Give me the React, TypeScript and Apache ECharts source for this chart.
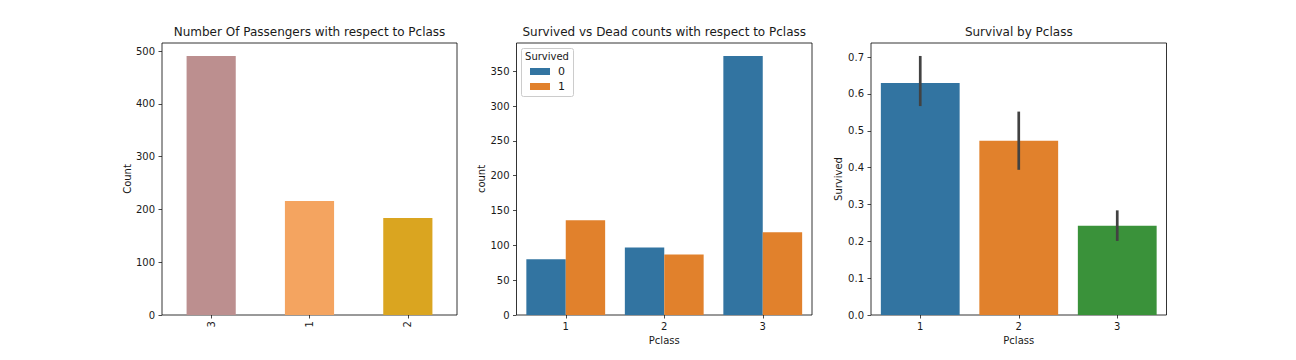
import React, { useEffect, useRef } from "react";
import * as echarts from "echarts";

// Panel 1: value counts of Pclass
const classOrder = ["3", "1", "2"];
const passengerCounts = [491, 216, 184];
const passengerColors = ["#BC8F8F", "#F4A460", "#DAA520"];
const yTicks1 = [0, 100, 200, 300, 400, 500];

// Panel 2: Survived vs Dead counts
const pclass = ["1", "2", "3"];
const deadCounts = [80, 97, 372];
const survivedCounts = [136, 87, 119];
const yTicks2 = [0, 50, 100, 150, 200, 250, 300, 350];

// Panel 3: survival rate with confidence interval
const survivalRate = [0.6296, 0.4728, 0.2424];
const ciLow = [0.567, 0.394, 0.201];
const ciHigh = [0.703, 0.552, 0.284];
const rateColors = ["#3274A1", "#E1812C", "#3A923A"];
const yTicks3 = [0, 0.1, 0.2, 0.3, 0.4, 0.5, 0.6, 0.7];

const FONT = "DejaVu Sans";
const TXT = "#1a1a1a";

const grids = [
  { left: 162, top: 43, width: 295, height: 272 },
  { left: 516.5, top: 43, width: 295.5, height: 272 },
  { left: 871, top: 43, width: 295.5, height: 272 },
];

export default function App() {
  const ref = useRef<HTMLDivElement>(null);
  useEffect(() => {
    document.body.style.margin = "0";
    const chart = echarts.init(ref.current!, null, { renderer: "svg" });

    const xAxisBase = (gi: number, data: string[], name: string, rotate = 0) => ({
      type: "category",
      gridIndex: gi,
      data,
      boundaryGap: true,
      name,
      nameLocation: "middle",
      nameGap: 20,
      nameTextStyle: { fontFamily: FONT, fontSize: 10, color: TXT },
      axisLine: { show: false },
      axisTick: { show: true, alignWithLabel: true, length: 3.5, lineStyle: { color: TXT, width: 0.8 } },
      axisLabel: { fontFamily: FONT, fontSize: 10, color: TXT, margin: 6, rotate },
      splitLine: { show: false },
    });
    const yAxisBase = (gi: number, max: number, ticks: number[], name: string, nameGap: number, fmt?: (v: number) => string) => ({
      type: "value",
      gridIndex: gi,
      min: 0,
      max,
      name,
      nameLocation: "middle",
      nameGap,
      nameRotate: 90,
      nameTextStyle: { fontFamily: FONT, fontSize: 10, color: TXT },
      axisLine: { show: false },
      axisTick: { show: true, length: 3.5, customValues: ticks, lineStyle: { color: TXT, width: 0.8 } },
      axisLabel: {
        fontFamily: FONT,
        fontSize: 10,
        color: TXT,
        margin: 7,
        customValues: ticks,
        formatter: fmt ? (v: number) => fmt(v) : (v: number) => String(v),
      },
      splitLine: { show: false },
    });

    const option: any = {
      animation: false,
      backgroundColor: "#fff",
      grid: grids.map((g) => ({ ...g, show: true, borderColor: "#000", borderWidth: 0.8, containLabel: false })),
      xAxis: [
        xAxisBase(0, classOrder, "", 90),
        xAxisBase(1, pclass, "Pclass"),
        xAxisBase(2, pclass, "Pclass"),
      ],
      yAxis: [
        yAxisBase(0, 491 * 1.05, yTicks1, "Count", 30),
        yAxisBase(1, 372 * 1.05, yTicks2, "count", 30),
        yAxisBase(2, 0.703 * 1.05, yTicks3, "Survived", 28, (v) => v.toFixed(1)),
      ],
      legend: {
        orient: "vertical",
        left: 530,
        top: 65,
        padding: 0,
        itemWidth: 20,
        itemHeight: 7,
        itemGap: 2,
        icon: "rect",
        data: ["0", "1"],
        textStyle: { fontFamily: FONT, fontSize: 11, lineHeight: 13, color: TXT, padding: [0, 0, 0, 3] },
        z: 10,
      },
      graphic: [
        ...[
          "Number Of Passengers with respect to Pclass",
          "Survived vs Dead counts with respect to Pclass",
          "Survival by Pclass",
        ].map((t, i) => ({
          type: "text",
          x: grids[i].left + grids[i].width / 2,
          y: 38,
          style: {
            text: t,
            fill: TXT,
            font: `12px "${FONT}"`,
            align: "center",
            textAlign: "center",
            verticalAlign: "bottom",
            textVerticalAlign: "bottom",
          },
        })),
        {
          type: "rect",
          shape: { x: 521.5, y: 48.5, width: 52, height: 48, r: 2 },
          style: { fill: "rgba(255,255,255,0.8)", stroke: "#cccccc", lineWidth: 1 },
          z: 5,
        },
        {
          type: "text",
          x: 547,
          y: 56.5,
          style: {
            text: "Survived",
            fill: TXT,
            font: `10px "${FONT}"`,
            align: "center",
            textAlign: "center",
            verticalAlign: "middle",
            textVerticalAlign: "middle",
          },
          z: 6,
        },
      ],
      series: [
        {
          type: "bar",
          xAxisIndex: 0,
          yAxisIndex: 0,
          barWidth: "50%",
          data: passengerCounts.map((v, i) => ({ value: v, itemStyle: { color: passengerColors[i] } })),
        },
        {
          type: "bar",
          name: "0",
          xAxisIndex: 1,
          yAxisIndex: 1,
          barWidth: "40%",
          barGap: "0%",
          itemStyle: { color: "#3274A1" },
          data: deadCounts,
        },
        {
          type: "bar",
          name: "1",
          xAxisIndex: 1,
          yAxisIndex: 1,
          barWidth: "40%",
          barGap: "0%",
          itemStyle: { color: "#E1812C" },
          data: survivedCounts,
        },
        {
          type: "bar",
          xAxisIndex: 2,
          yAxisIndex: 2,
          barWidth: "80%",
          data: survivalRate.map((v, i) => ({ value: v, itemStyle: { color: rateColors[i] } })),
        },
        {
          type: "custom",
          xAxisIndex: 2,
          yAxisIndex: 2,
          z: 5,
          data: pclass.map((_, i) => [i, ciLow[i], ciHigh[i]]),
          renderItem: (params: any, api: any) => {
            const lo = api.coord([api.value(0), api.value(1)]);
            const hi = api.coord([api.value(0), api.value(2)]);
            return {
              type: "line",
              shape: { x1: lo[0], y1: lo[1], x2: hi[0], y2: hi[1] },
              style: { stroke: "#424242", lineWidth: 2.7 },
            };
          },
        },
      ],
    };
    chart.setOption(option);
    return () => chart.dispose();
  }, []);
  return <div ref={ref} style={{ width: 1296, height: 360 }} />;
}
